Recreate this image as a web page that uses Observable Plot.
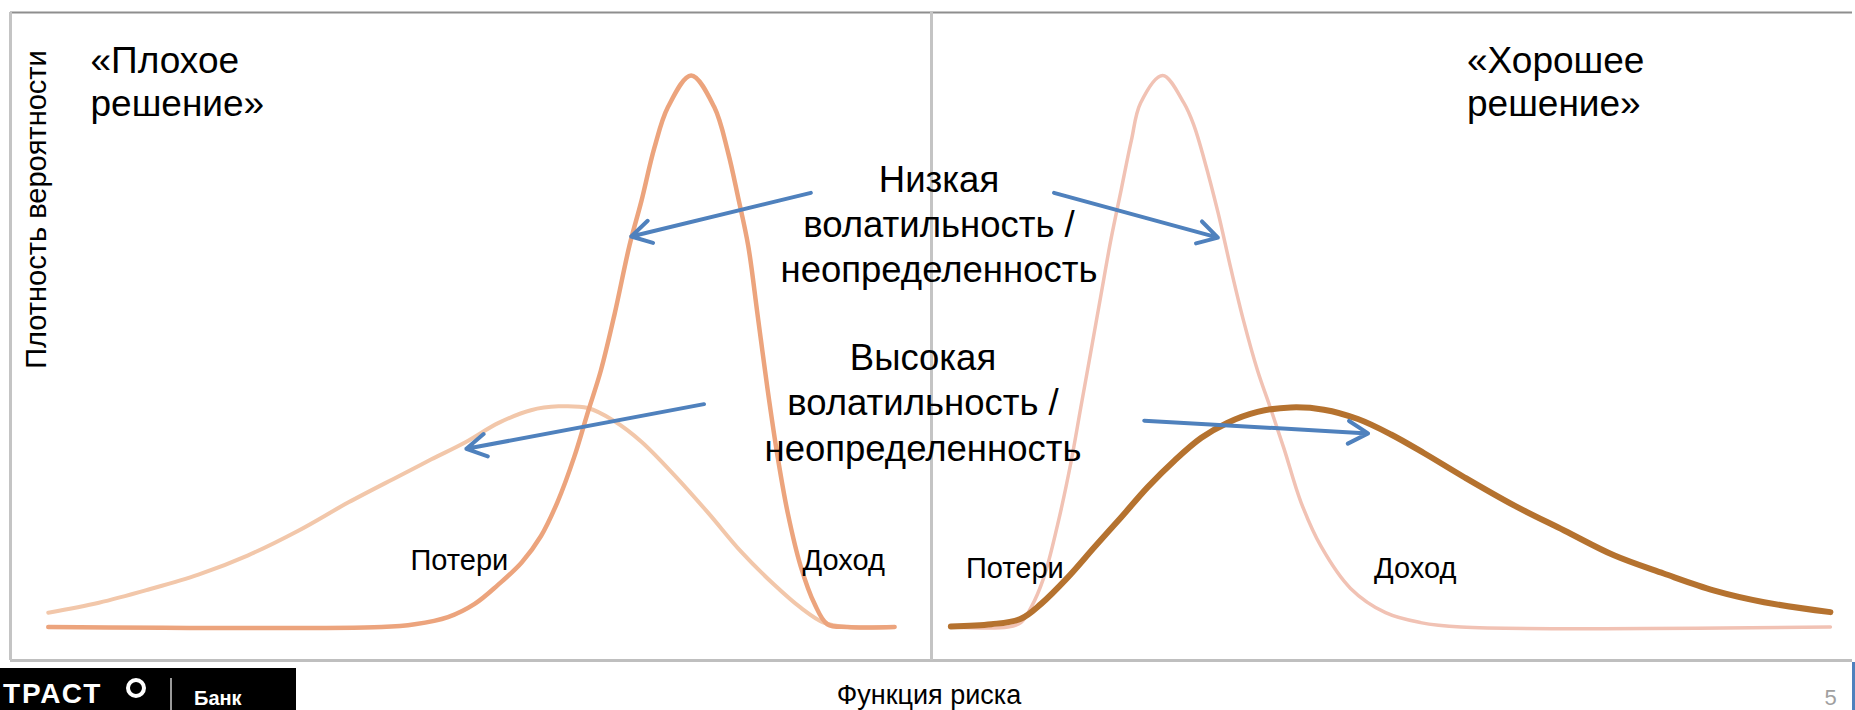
<!DOCTYPE html>
<html>
<head>
<meta charset="utf-8">
<script src="https://cdn.jsdelivr.net/npm/d3@7"></script>
<script src="https://cdn.jsdelivr.net/npm/@observablehq/plot@0.6"></script>
<style>
  html, body { margin: 0; padding: 0; background: #fff; }
  #wrap { position: relative; width: 1855px; height: 710px; overflow: hidden; font-family: "Liberation Sans", Arial, sans-serif; }
  #wrap svg { position: absolute; left: 0; top: 0; }
  #logo { position: absolute; left: 0; top: 668px; width: 296px; height: 42px; background: #000; overflow: hidden; }
  #logo .brand { position: absolute; left: 3px; top: 12px; color: #fff; font: bold 28px/28px "Liberation Sans", Arial, sans-serif; letter-spacing: 2px; }
  #logo .ring { position: absolute; left: 126px; top: 10px; width: 12px; height: 12px; border: 4px solid #fff; border-radius: 50%; }
  #logo .sep { position: absolute; left: 170px; top: 10px; width: 2px; height: 32px; background: #9a9a9a; }
  #logo .bank { position: absolute; left: 194px; top: 20px; color: #fff; font: bold 20px/20px "Liberation Sans", Arial, sans-serif; }
  #edge { position: absolute; left: 1852px; top: 662px; width: 3px; height: 48px; background: #4f81bd; }
</style>
</head>
<body>
<div id="wrap"></div>
<script>
const FONT = '"Liberation Sans", Arial, sans-serif';

// Panels
const panels = ["Плохое решение", "Хорошее решение"];

// Axis domains (risk function on x, probability density on y)
const xDomain = [0, 100];
const yDomain = [-6.07, 111.4];

// «Плохое решение» — narrow (low volatility) curve
const badNarrowX = [4.1, 40.3, 43.9, 47.5, 50.4, 52.9, 55.5, 57.6, 59.4, 61.2, 62.7, 64.1, 65.6, 67.2, 68.5, 69.9, 71.4, 73.9, 76.4, 77.9, 79.0, 80.1, 81.1, 82.2, 83.3, 84.4, 85.8, 87.3, 88.7, 90.9, 96.0];
const badNarrowY = [0, 0, 0.5, 1.8, 4.2, 7.6, 11.7, 16.5, 22.7, 30.8, 39.0, 46.5, 56.8, 69.1, 77.2, 86.8, 94.3, 100, 94.3, 86.1, 77.9, 69.1, 56.8, 43.1, 30.8, 20.6, 11.0, 4.2, 0.5, 0, 0];

// «Плохое решение» — wide (high volatility) curve
const badWideX = [4.1, 9.6, 15.0, 20.4, 25.8, 31.3, 36.7, 42.1, 45.7, 49.4, 53.0, 56.5, 59.5, 62.7, 65.5, 68.5, 72.1, 75.8, 79.3, 82.9, 85.8, 88.3, 90.9, 95.9];
const badWideY = [2.6, 4.4, 6.8, 9.5, 13.0, 17.5, 22.6, 27.3, 30.4, 33.5, 37.0, 39.3, 40.0, 39.7, 37.4, 33.6, 27.5, 20.6, 13.7, 7.7, 3.5, 0.8, 0, 0];

// «Хорошее решение» — narrow (low volatility) curve
const goodNarrowX = [2.3, 8.3, 9.7, 10.8, 12.2, 13.7, 15.1, 16.2, 17.3, 18.4, 19.5, 20.6, 21.7, 22.7, 25.1, 27.4, 28.5, 29.6, 31.1, 32.5, 33.9, 35.4, 36.8, 38.3, 40.1, 42.3, 45.5, 49.3, 53.1, 57.5, 97.6];
const goodNarrowY = [0, 0, 0.8, 3.5, 9.0, 18.6, 29.5, 39.7, 49.9, 60.2, 70.4, 79.3, 88.2, 95.0, 100, 95.0, 90.9, 84.8, 75.2, 65.0, 55.4, 46.5, 39.7, 32.2, 22.7, 14.6, 7.0, 2.6, 0.8, 0, 0];

// «Хорошее решение» — wide (high volatility) curve
const goodWideX = [2.1, 6.5, 9.7, 11.9, 14.8, 17.7, 20.6, 23.5, 26.4, 29.3, 32.1, 35.4, 39.0, 42.6, 46.3, 49.9, 53.5, 57.8, 63.3, 68.7, 74.1, 79.5, 85.0, 90.4, 97.6];
const goodWideY = [0.1, 0.5, 1.5, 4.2, 9.0, 14.5, 19.9, 25.4, 30.2, 34.3, 37.0, 39.0, 39.8, 39.4, 37.7, 34.9, 31.5, 27.2, 22.0, 17.5, 13.0, 9.7, 6.6, 4.5, 2.7];

// Annotation arrows (from label to curve), in chart units
const arrowPanel = [0, 1, 0, 1];
const arrowFromX = [86.9, 13.3, 75.3, 23.1];
const arrowFromY = [78.7, 78.7, 40.4, 37.4];
const arrowToX = [67.4, 31.1, 49.5, 47.4];
const arrowToY = [70.8, 70.6, 32.3, 35.1];

// Texts
const titleBad = "«Плохое\nрешение»";
const titleGood = "«Хорошее\nрешение»";
const lowVolText = "Низкая\nволатильность /\nнеопределенность";
const highVolText = "Высокая\nволатильность /\nнеопределенность";
const lossText = "Потери";
const incomeText = "Доход";
const yLabel = "Плотность вероятности";
const xLabel = "Функция риска";
const pageNo = "5";

// Build tables
const series = (panel, xs, ys) => xs.map((x, i) => ({panel, x, y: ys[i]}));
const badNarrow = series(panels[0], badNarrowX, badNarrowY);
const badWide = series(panels[0], badWideX, badWideY);
const goodNarrow = series(panels[1], goodNarrowX, goodNarrowY);
const goodWide = series(panels[1], goodWideX, goodWideY);
const arrows = arrowPanel.map((p, i) => ({panel: panels[p], x1: arrowFromX[i], y1: arrowFromY[i], x2: arrowToX[i], y2: arrowToY[i]}));

function note(panel, text, opts) {
  return Plot.text([{panel, text}], {fx: "panel", text: "text", fontFamily: FONT, lineAnchor: "top", fill: "#000", ...opts});
}

const line = (data, stroke, strokeWidth) =>
  Plot.line(data, {x: "x", y: "y", fx: "panel", curve: "catmull-rom", stroke, strokeWidth, strokeLinecap: "round", strokeLinejoin: "round"});

const chart = Plot.plot({
  width: 1855,
  height: 710,
  marginTop: 12,
  marginBottom: 50,
  marginLeft: 9,
  marginRight: 3,
  fx: {domain: panels, padding: 0, axis: null},
  x: {domain: xDomain, axis: null},
  y: {domain: yDomain, axis: null},
  style: {fontFamily: FONT, background: "transparent", overflow: "visible"},
  marks: [
    // panel borders
    Plot.ruleY([yDomain[1]], {stroke: "#8e8e8e", strokeWidth: 2}),
    Plot.ruleY([yDomain[0]], {stroke: "#bfbfbf", strokeWidth: 3}),
    Plot.ruleX([xDomain[0]], {stroke: "#c4c4c4", strokeWidth: 3}),
    // curves
    line(badWide, "#f2c7aa", 4),
    line(badNarrow, "#eca47d", 4.5),
    line(goodNarrow, "#f1c2b4", 3.5),
    line(goodWide, "#b5722f", 6),
    // texts
    note(panels[0], titleBad, {frameAnchor: "top-left", textAnchor: "start", fontSize: 37, lineHeight: 1.162, dx: 80, dy: 29.5}),
    note(panels[1], titleGood, {frameAnchor: "top-left", textAnchor: "start", fontSize: 37, lineHeight: 1.162, dx: 535.5, dy: 29.5}),
    note(panels[0], yLabel, {frameAnchor: "top-left", textAnchor: "middle", rotate: -90, fontSize: 29, dx: 15.4, dy: 197}),
    note(panels[0], lowVolText, {frameAnchor: "top-right", textAnchor: "middle", fontSize: 36.5, lineHeight: 1.233, dx: 7.5, dy: 148}),
    note(panels[0], highVolText, {frameAnchor: "top-right", textAnchor: "middle", fontSize: 36.5, lineHeight: 1.247, dx: -8.5, dy: 324.7}),
    note(panels[0], lossText, {frameAnchor: "bottom-left", textAnchor: "start", fontSize: 29, dx: 400, dy: -110.6}),
    note(panels[0], incomeText, {frameAnchor: "bottom-left", textAnchor: "start", fontSize: 29, dx: 792, dy: -110.6}),
    note(panels[1], lossText, {frameAnchor: "bottom-left", textAnchor: "start", fontSize: 29, dx: 34.5, dy: -102.6}),
    note(panels[1], incomeText, {frameAnchor: "bottom-left", textAnchor: "start", fontSize: 29, dx: 442.5, dy: -102.6}),
    note(panels[0], xLabel, {frameAnchor: "bottom-right", textAnchor: "middle", fontSize: 27, dx: -2.5, dy: 24}),
    note(panels[1], pageNo, {frameAnchor: "bottom-right", textAnchor: "start", fontSize: 22, dx: -28, dy: 28.4, fill: "#a0a0a0"}),
    // arrows
    Plot.arrow(arrows, {x1: "x1", y1: "y1", x2: "x2", y2: "y2", fx: "panel", stroke: "#4f81bd", strokeWidth: 4, headLength: 8.5, strokeLinecap: "round"})
  ]
});

const wrap = document.getElementById("wrap");
wrap.appendChild(chart);
wrap.insertAdjacentHTML("beforeend",
  '<div id="logo"><span class="brand">ТРАСТ</span><span class="ring"></span><span class="sep"></span><span class="bank">Банк</span></div><div id="edge"></div>');
</script>
</body>
</html>
